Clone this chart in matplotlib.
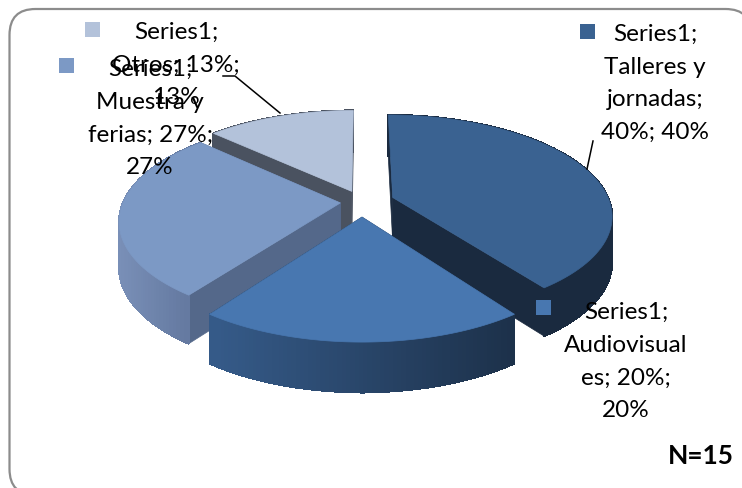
import numpy as np
import matplotlib
matplotlib.use('Agg')
import matplotlib.pyplot as plt
from matplotlib.patches import Polygon, FancyBboxPatch, Rectangle
from matplotlib.colors import to_rgb

plt.rcParams['font.family'] = ['Lato', 'DejaVu Sans']

categories = ['Talleres y jornadas', 'Audiovisuales', 'Muestra y ferias', 'Otros']
values = [40, 20, 27, 13]
explode = [0.15, 0.15, 0.10, 0.12]
top_colors = ['#3a6291', '#4877b0', '#7c99c5', '#b3c2da']
wall_left = ['#1a2a3f', '#355a88', '#7a90b8', '#4a5260']
wall_right = ['#1a2a3f', '#1c3049', '#63789f', '#4a5260']
cut_colors = ['#1a2a3f', '#1a2f47', '#54688a', '#4a5260']
label_text = ['Series1;\nTalleres y\njornadas;\n40%; 40%',
              'Series1;\nAudiovisual\nes; 20%;\n20%',
              'Series1;\nMuestra y\nferias; 27%;\n27%',
              'Series1;\nOtros; 13%;\n13%']
label_x = [655, 626, 150, 176]
label_y = [24, 302, 59, 22]
square_x = [580, 536, 59, 85]
square_y = [25, 301, 59, 23]
shade_from = [117, 218, 117, 117]
shade_to = [612, 517, 190, 612]

# pie is squashed by hand: centre, radii, perspective, depth in pixels
cx, cy, rx, ry = 362, 203, 217, 98
persp = 0.17
depth = 45


def project(u, v, z=0):
    s = 1 / (1 + persp * v)
    return cx + rx * u * s, cy - ry * v * s + z * depth * np.sqrt(s)


def lerp(c1, c2, t):
    a, b = np.array(to_rgb(c1)), np.array(to_rgb(c2))
    return tuple(a + (b - a) * t)


fig = plt.figure(figsize=(7.42, 4.89), dpi=100)
ax = fig.add_axes([0, 0, 1, 1])

wedges, _ = ax.pie(values, explode=explode, startangle=90, counterclock=False, radius=1)
geom = [(w.center, w.theta1, w.theta2) for w in wedges]
for w in wedges:
    w.remove()

ax.set_aspect('auto')
ax.set_xlim(0, 742)
ax.set_ylim(489, 0)
ax.axis('off')

ax.add_patch(FancyBboxPatch((9.5, 10), 742, 486, boxstyle='round,pad=0,rounding_size=26',
                            fc='white', ec='#8c8c8c', lw=1.6, zorder=0.5))

# back to front so nearer slices cover the others
for i in [3, 0, 2, 1]:
    (c0, c1), t1, t2 = geom[i]
    th = np.radians(np.linspace(t1, t2, 80))
    u = c0 + np.cos(th)
    v = c1 + np.sin(th)

    # flat cut walls
    for eu, ev in [(u[0], v[0]), (u[-1], v[-1])]:
        pts = [project(c0, c1), project(eu, ev), project(eu, ev, 1), project(c0, c1, 1)]
        ax.add_patch(Polygon(pts, fc=cut_colors[i], ec=cut_colors[i], lw=0.5, zorder=2))

    # curved outer wall, one strip per step for the shading
    for k in range(len(u) - 1):
        x_mid = project(u[k], v[k])[0]
        t = np.clip((x_mid - shade_from[i]) / (shade_to[i] - shade_from[i]), 0, 1)
        col = lerp(wall_left[i], wall_right[i], t)
        pts = [project(u[k], v[k]), project(u[k + 1], v[k + 1]),
               project(u[k + 1], v[k + 1], 1), project(u[k], v[k], 1)]
        ax.add_patch(Polygon(pts, fc=col, ec=col, lw=0.8, antialiased=False, zorder=2))

    outline = [project(c0, c1)] + [project(a, b) for a, b in zip(u, v)]
    ax.add_patch(Polygon(outline, fc=top_colors[i], ec=top_colors[i], lw=0.5, zorder=2))

# leader lines
ax.plot([223, 235, 280], [77, 77, 114], color='black', lw=1.1, zorder=3)
ax.plot([593, 587], [142, 170], color='black', lw=1.1, zorder=3)

for i in range(len(categories)):
    ax.add_patch(Rectangle((square_x[i], square_y[i]), 15, 15, fc=top_colors[i], ec='none', zorder=4))
    ax.text(label_x[i], label_y[i], label_text[i], ha='center', va='top', fontsize=17.5,
            linespacing=1.69, color='black', zorder=5)

ax.text(701, 456, 'N=15', ha='center', va='center', fontsize=19, fontweight='bold', color='black', zorder=5)

fig.savefig('out.png', dpi=100)
